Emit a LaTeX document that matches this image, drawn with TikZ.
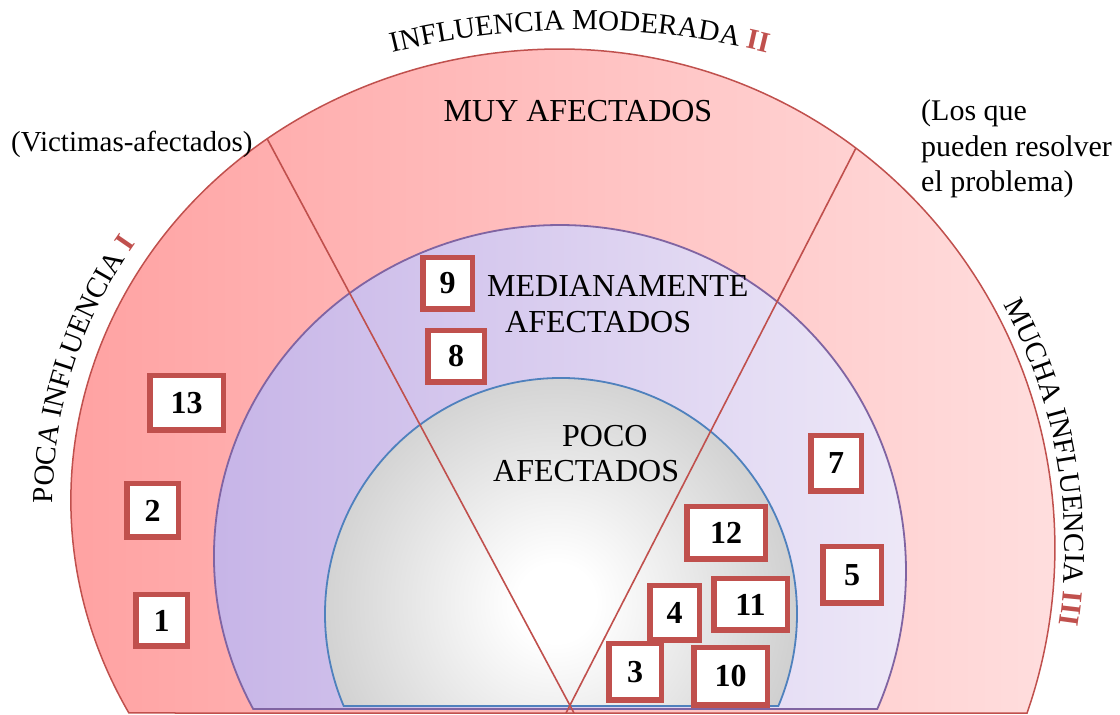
\documentclass[tikz,border=0pt]{standalone}
\usepackage{fontspec}
\setmainfont{Liberation Serif}
\usetikzlibrary{decorations.text}
\definecolor{boxred}{HTML}{C0504D}
\definecolor{ringL}{RGB}{255,158,158}
\definecolor{ringR}{RGB}{255,223,223}
\definecolor{purL}{RGB}{196,177,230}
\definecolor{purR}{RGB}{238,233,248}
\definecolor{purB}{HTML}{8064A2}
\definecolor{grayB}{HTML}{4F81BD}
\definecolor{grayE}{RGB}{164,164,164}
\pgfdeclareradialshading{grayball}{\pgfpoint{0bp}{0bp}}{color(0bp)=(white); color(4bp)=(white); color(44bp)=(grayE); color(50bp)=(grayE)}
\tikzset{
  numbox/.style={draw=boxred, line width=5.5pt, fill=white, font=\fontsize{32}{36}\selectfont\bfseries, inner sep=0pt},
  divline/.style={draw=boxred, line width=1.6pt},
  biglabel/.style={font=\fontsize{32}{36}\selectfont, inner sep=0pt},
  sidelabel/.style={inner sep=0pt},
}
\begin{document}
\begin{tikzpicture}[x=1pt,y=1pt]
\useasboundingbox (0,0) rectangle (1120,715);
% outer ring
\path[left color=ringL, right color=ringR, draw=boxred, line width=1.5pt]
  (128.9,2) arc[start angle=208.18, end angle=90, x radius=489, y radius=451]
  arc[start angle=90, end angle=-19.31, x radius=495, y radius=499] -- cycle;
% middle ring
\path[left color=purL, right color=purR, draw=purB, line width=1.8pt]
  (253.2,6) arc[start angle=207.53, end angle=90, x radius=346, y radius=331]
  arc[start angle=90, end angle=-23.51, x radius=346, y radius=346] -- cycle;
% inner
\begin{scope}
  \clip (343.7,9) arc[start angle=202.94, end angle=-22.94, radius=236] -- cycle;
  \shade[shading=grayball] (556,112) circle (245);
\end{scope}
\draw[grayB, line width=1.8pt] (343.7,9) arc[start angle=202.94, end angle=-22.94, radius=236] -- cycle;
% dividing lines
\coordinate (LT) at (267,576.5);
\coordinate (LB) at (574,2);
\coordinate (RT) at (856,567);
\coordinate (RB) at (566,2);
\draw[divline] (LT) -- (LB);
\draw[divline] (RT) -- (RB);
% curved labels
\path[decorate, decoration={text along path, text align=center,
  text={|\fontsize{29}{34}\selectfont|INFLUENCIA MODERADA |\fontsize{29}{34}\selectfont\bfseries\color{boxred}|II}}]
  (580,-99) ++(125:784) arc[start angle=125, end angle=55, radius=784];
\path[decorate, decoration={text along path, text align=center,
  text={|\fontsize{29}{34}\selectfont|POCA INFLUENCIA |\fontsize{29}{34}\selectfont\bfseries\color{boxred}|I}}]
  (560,215) ++(204:507 and 469) arc[start angle=204, end angle=124, x radius=507, y radius=469];
\path[decorate, decoration={text along path, text align=center,
  text={|\fontsize{29}{34}\selectfont|MUCHA INFLUENCIA |\fontsize{29}{34}\selectfont\bfseries\color{boxred}|III}}]
  (560,167) ++(50:505 and 509) arc[start angle=50, end angle=-30, x radius=505, y radius=509];
% side labels
\node[sidelabel, anchor=base west, font=\fontsize{29}{34}\selectfont] (vict) at (11,563) {(Victimas-afectados)};
\node[sidelabel, anchor=base west, font=\fontsize{30}{35.5}\selectfont] (losque) at (921,594)
  {\begin{tabular}[t]{@{}l@{}}(Los que\\pueden resolver\\el problema)\end{tabular}};
% zone labels
\node[biglabel, anchor=base] (muy) at (578,593) {MUY AFECTADOS};
\node[biglabel, anchor=base west] (med) at (487,418) {\begin{tabular}[t]{@{}l@{}}MEDIANAMENTE\\\hspace*{18pt}AFECTADOS\end{tabular}};
\node[biglabel, anchor=base west, font=\fontsize{32}{35}\selectfont] (poco) at (493,268) {\begin{tabular}[t]{@{}l@{}}\hspace*{69pt}POCO\\AFECTADOS\end{tabular}};
% numbered boxes
\node[numbox, minimum width=49.5pt, minimum height=51.5pt] (b9) at (447.5,431.5) {9};
\node[numbox, minimum width=56.5pt, minimum height=51.5pt] (b8) at (456,358.5) {8};
\node[numbox, minimum width=73.5pt, minimum height=54.5pt] (b13) at (186.5,312) {13};
\node[numbox, minimum width=51.5pt, minimum height=53.5pt] (b2) at (152.5,204.5) {2};
\node[numbox, minimum width=51.5pt, minimum height=51.5pt] (b1) at (161.5,94.5) {1};
\node[numbox, minimum width=50.5pt, minimum height=55.5pt] (b7) at (836,251.5) {7};
\node[numbox, minimum width=58.5pt, minimum height=56.5pt] (b5) at (852,140) {5};
\node[numbox, minimum width=78.5pt, minimum height=52.5pt] (b12) at (726,182) {12};
\node[numbox, minimum width=49.5pt, minimum height=54.5pt] (b4) at (674.5,102) {4};
\node[numbox, minimum width=73.5pt, minimum height=51.5pt] (b11) at (750.5,110.5) {11};
\node[numbox, minimum width=52.5pt, minimum height=56.5pt] (b3) at (635,43) {3};
\node[numbox, minimum width=73.5pt, minimum height=57.5pt] (b10) at (730.5,38.5) {10};
\end{tikzpicture}
\end{document}
